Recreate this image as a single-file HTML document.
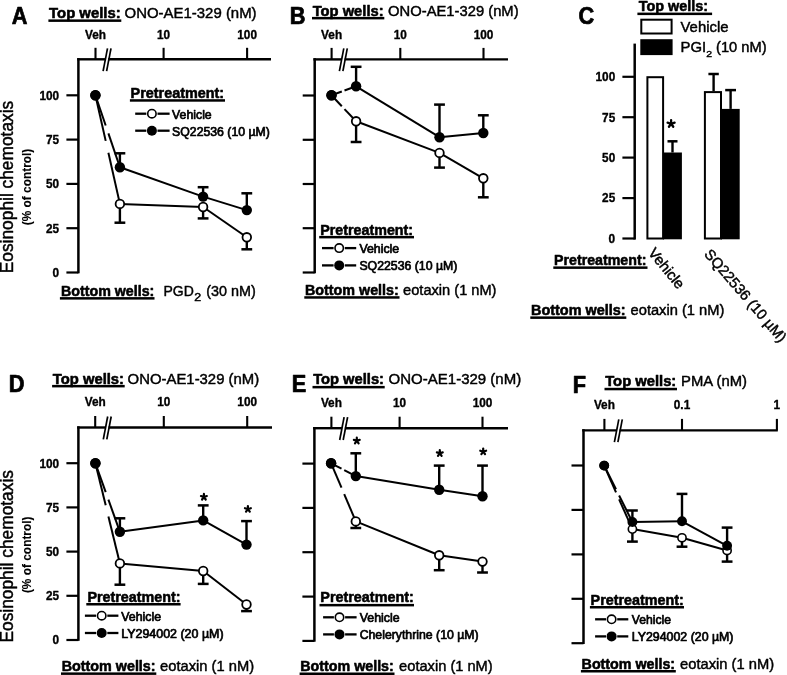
<!DOCTYPE html>
<html><head><meta charset="utf-8"><style>
html,body{margin:0;padding:0;background:#fff;overflow:hidden;}
svg{display:block;filter:grayscale(1);}
text{font-family:"Liberation Sans", sans-serif;fill:#000;stroke:#000;stroke-width:0.45px;stroke-linejoin:round;}
text[font-weight=bold]{stroke-width:0.55px;}
text.tk{stroke-width:0.35px;}
text.lg{stroke-width:0.7px;}
</style></head><body>
<svg width="787" height="675" viewBox="0 0 787 675" stroke="#000" fill="none">
<rect x="0" y="0" width="787" height="675" fill="#fff" stroke="none"/>
<text fill="#000" transform="translate(11.83,24.25) scale(0.93,1)" x="0" y="0" font-size="23.4" font-weight="bold" style="stroke-width:0.75px">A</text>
<text fill="#000" x="49.1" y="18.1" font-size="14.40" font-weight="bold" textLength="71.5" lengthAdjust="spacingAndGlyphs">Top wells:</text>
<rect x="48.4" y="19.4" width="72.9" height="2.5" fill="#000" stroke="none"/>
<text fill="#000" x="124.6" y="18.1" font-size="15.04" textLength="132.0" lengthAdjust="spacingAndGlyphs">ONO-AE1-329 (nM)</text>
<line x1="78.4" y1="58.1" x2="78.4" y2="273.3" stroke-width="2.5"/>
<line x1="66.4" y1="95.3" x2="78.4" y2="95.3" stroke-width="2.2"/>
<text fill="#000" x="59.1" y="99.6" font-size="12.39" font-weight="bold" text-anchor="end" textLength="19.7" lengthAdjust="spacingAndGlyphs" class="tk">100</text>
<line x1="66.4" y1="139.6" x2="78.4" y2="139.6" stroke-width="2.2"/>
<text fill="#000" x="59.1" y="143.9" font-size="12.39" font-weight="bold" text-anchor="end" textLength="13.1" lengthAdjust="spacingAndGlyphs" class="tk">75</text>
<line x1="66.4" y1="183.9" x2="78.4" y2="183.9" stroke-width="2.2"/>
<text fill="#000" x="59.1" y="188.2" font-size="12.39" font-weight="bold" text-anchor="end" textLength="13.1" lengthAdjust="spacingAndGlyphs" class="tk">50</text>
<line x1="66.4" y1="228.2" x2="78.4" y2="228.2" stroke-width="2.2"/>
<text fill="#000" x="59.1" y="232.5" font-size="12.39" font-weight="bold" text-anchor="end" textLength="13.1" lengthAdjust="spacingAndGlyphs" class="tk">25</text>
<line x1="66.4" y1="272.5" x2="78.4" y2="272.5" stroke-width="2.2"/>
<text fill="#000" x="59.1" y="276.8" font-size="12.39" font-weight="bold" text-anchor="end" textLength="6.6" lengthAdjust="spacingAndGlyphs" class="tk">0</text>
<line x1="77.2" y1="59.3" x2="105.5" y2="59.3" stroke-width="2.4"/>
<line x1="108.3" y1="59.3" x2="271.0" y2="59.3" stroke-width="2.4"/>
<line x1="103.1" y1="71.1" x2="107.5" y2="48.3" stroke-width="1.7"/>
<line x1="106.6" y1="71.1" x2="111.0" y2="48.3" stroke-width="1.7"/>
<line x1="95.5" y1="59.3" x2="95.5" y2="47.8" stroke-width="2.1"/>
<text fill="#000" x="95.5" y="39.2" font-size="12.39" font-weight="bold" text-anchor="middle" textLength="21.0" lengthAdjust="spacingAndGlyphs" class="tk">Veh</text>
<line x1="163.6" y1="59.3" x2="163.6" y2="47.8" stroke-width="2.1"/>
<text fill="#000" x="163.6" y="39.2" font-size="12.39" font-weight="bold" text-anchor="middle" textLength="13.1" lengthAdjust="spacingAndGlyphs" class="tk">10</text>
<line x1="247.1" y1="59.3" x2="247.1" y2="47.8" stroke-width="2.1"/>
<text fill="#000" x="247.1" y="39.2" font-size="12.39" font-weight="bold" text-anchor="middle" textLength="19.7" lengthAdjust="spacingAndGlyphs" class="tk">100</text>
<line x1="95.4" y1="95.2" x2="105.7" y2="140.9" stroke-width="2"/>
<line x1="108.4" y1="152.8" x2="119.9" y2="203.9" stroke-width="2"/>
<line x1="119.9" y1="203.9" x2="203.1" y2="207.0" stroke-width="2"/>
<line x1="203.1" y1="207.0" x2="246.8" y2="237.3" stroke-width="2"/>
<line x1="119.9" y1="203.9" x2="119.9" y2="222.7" stroke-width="2.4"/>
<line x1="114.5" y1="222.7" x2="125.3" y2="222.7" stroke-width="2.5"/>
<line x1="203.1" y1="207.0" x2="203.1" y2="218.4" stroke-width="2.4"/>
<line x1="197.7" y1="218.4" x2="208.5" y2="218.4" stroke-width="2.5"/>
<line x1="246.8" y1="237.3" x2="246.8" y2="249.3" stroke-width="2.4"/>
<line x1="241.4" y1="249.3" x2="252.2" y2="249.3" stroke-width="2.5"/>
<circle cx="95.4" cy="95.2" r="4.30" fill="#fff" stroke-width="1.8"/>
<circle cx="119.9" cy="203.9" r="4.30" fill="#fff" stroke-width="1.8"/>
<circle cx="203.1" cy="207.0" r="4.30" fill="#fff" stroke-width="1.8"/>
<circle cx="246.8" cy="237.3" r="4.30" fill="#fff" stroke-width="1.8"/>
<line x1="95.4" y1="95.2" x2="105.7" y2="125.5" stroke-width="2"/>
<line x1="108.4" y1="133.4" x2="119.9" y2="167.3" stroke-width="2"/>
<line x1="119.9" y1="167.3" x2="203.1" y2="196.6" stroke-width="2"/>
<line x1="203.1" y1="196.6" x2="246.8" y2="210.1" stroke-width="2"/>
<line x1="119.9" y1="167.3" x2="119.9" y2="153.3" stroke-width="2.4"/>
<line x1="114.5" y1="153.3" x2="125.3" y2="153.3" stroke-width="2.5"/>
<line x1="203.1" y1="196.6" x2="203.1" y2="187.2" stroke-width="2.4"/>
<line x1="197.7" y1="187.2" x2="208.5" y2="187.2" stroke-width="2.5"/>
<line x1="246.8" y1="210.1" x2="246.8" y2="193.3" stroke-width="2.4"/>
<line x1="241.4" y1="193.3" x2="252.2" y2="193.3" stroke-width="2.5"/>
<circle cx="95.4" cy="95.2" r="5.20" fill="#000" stroke="none"/>
<circle cx="119.9" cy="167.3" r="5.20" fill="#000" stroke="none"/>
<circle cx="203.1" cy="196.6" r="5.20" fill="#000" stroke="none"/>
<circle cx="246.8" cy="210.1" r="5.20" fill="#000" stroke="none"/>
<text fill="#000" x="130.6" y="98.2" font-size="14.40" font-weight="bold" textLength="93.5" lengthAdjust="spacingAndGlyphs">Pretreatment:</text>
<rect x="129.9" y="99.2" width="95.1" height="2.5" fill="#000" stroke="none"/>
<line x1="135.2" y1="113.7" x2="146.3" y2="113.7" stroke-width="2.3"/>
<line x1="157.5" y1="113.7" x2="169.6" y2="113.7" stroke-width="2.3"/>
<circle cx="151.9" cy="113.7" r="4.20" fill="#fff" stroke-width="1.6"/>
<text fill="#000" x="172.1" y="118.7" font-size="12.30" textLength="39.6" lengthAdjust="spacingAndGlyphs" class="lg">Vehicle</text>
<line x1="135.2" y1="130.7" x2="146.3" y2="130.7" stroke-width="2.3"/>
<line x1="157.5" y1="130.7" x2="169.6" y2="130.7" stroke-width="2.3"/>
<circle cx="151.9" cy="130.7" r="5.00" fill="#000" stroke="none"/>
<text fill="#000" x="172.1" y="135.7" font-size="12.30" textLength="97.8" lengthAdjust="spacingAndGlyphs" class="lg">SQ22536 (10 µM)</text>
<text fill="#000" x="61.0" y="295.7" font-size="14.40" font-weight="bold" textLength="93.3" lengthAdjust="spacingAndGlyphs">Bottom wells:</text>
<rect x="59.9" y="297.1" width="94.6" height="2.5" fill="#000" stroke="none"/>
<text fill="#000" x="163.5" y="296.3" font-size="15.04" textLength="30.3" lengthAdjust="spacingAndGlyphs">PGD</text>
<text fill="#000" x="194.3" y="301.4" font-size="10.00" textLength="6.9" lengthAdjust="spacingAndGlyphs">2</text>
<text fill="#000" x="206.2" y="296.3" font-size="15.04" textLength="49.5" lengthAdjust="spacingAndGlyphs">(30 nM)</text>
<text fill="#000" transform="translate(13.4,187.0) rotate(-90)" font-size="17.6" text-anchor="middle" textLength="172.5" lengthAdjust="spacingAndGlyphs">Eosinophil chemotaxis</text>
<text fill="#000" transform="translate(31.0,187) rotate(-90)" font-size="12.6" font-weight="bold" text-anchor="middle" textLength="76.6" lengthAdjust="spacingAndGlyphs" style="stroke-width:0.1px">(% of control)</text>
<text fill="#000" transform="translate(289.77,24.25) scale(0.93,1)" x="0" y="0" font-size="23.4" font-weight="bold" style="stroke-width:0.75px">B</text>
<text fill="#000" x="312.7" y="15.5" font-size="14.40" font-weight="bold" textLength="70.9" lengthAdjust="spacingAndGlyphs">Top wells:</text>
<rect x="312.0" y="16.9" width="72.3" height="2.5" fill="#000" stroke="none"/>
<text fill="#000" x="388.1" y="15.5" font-size="15.04" textLength="130.5" lengthAdjust="spacingAndGlyphs">ONO-AE1-329 (nM)</text>
<line x1="314.7" y1="58.2" x2="314.7" y2="273.3" stroke-width="2.5"/>
<line x1="302.7" y1="95.5" x2="314.7" y2="95.5" stroke-width="2.2"/>
<line x1="302.7" y1="139.8" x2="314.7" y2="139.8" stroke-width="2.2"/>
<line x1="302.7" y1="184.0" x2="314.7" y2="184.0" stroke-width="2.2"/>
<line x1="302.7" y1="228.2" x2="314.7" y2="228.2" stroke-width="2.2"/>
<line x1="302.7" y1="272.5" x2="314.7" y2="272.5" stroke-width="2.2"/>
<line x1="313.4" y1="59.4" x2="341.8" y2="59.4" stroke-width="2.4"/>
<line x1="344.6" y1="59.4" x2="508.0" y2="59.4" stroke-width="2.4"/>
<line x1="339.4" y1="71.2" x2="343.8" y2="48.4" stroke-width="1.7"/>
<line x1="342.9" y1="71.2" x2="347.3" y2="48.4" stroke-width="1.7"/>
<line x1="331.6" y1="59.4" x2="331.6" y2="47.9" stroke-width="2.1"/>
<text fill="#000" x="331.6" y="38.6" font-size="12.39" font-weight="bold" text-anchor="middle" textLength="21.0" lengthAdjust="spacingAndGlyphs" class="tk">Veh</text>
<line x1="400.3" y1="59.4" x2="400.3" y2="47.9" stroke-width="2.1"/>
<text fill="#000" x="400.3" y="38.6" font-size="12.39" font-weight="bold" text-anchor="middle" textLength="13.1" lengthAdjust="spacingAndGlyphs" class="tk">10</text>
<line x1="483.5" y1="59.4" x2="483.5" y2="47.9" stroke-width="2.1"/>
<text fill="#000" x="483.5" y="38.6" font-size="12.39" font-weight="bold" text-anchor="middle" textLength="19.7" lengthAdjust="spacingAndGlyphs" class="tk">100</text>
<line x1="331.5" y1="95.3" x2="341.8" y2="106.2" stroke-width="2"/>
<line x1="344.5" y1="109.1" x2="356.1" y2="121.3" stroke-width="2"/>
<line x1="356.1" y1="121.3" x2="439.5" y2="152.9" stroke-width="2"/>
<line x1="439.5" y1="152.9" x2="483.3" y2="178.3" stroke-width="2"/>
<line x1="356.1" y1="121.3" x2="356.1" y2="142.0" stroke-width="2.4"/>
<line x1="350.7" y1="142.0" x2="361.5" y2="142.0" stroke-width="2.5"/>
<line x1="439.5" y1="152.9" x2="439.5" y2="167.6" stroke-width="2.4"/>
<line x1="434.1" y1="167.6" x2="444.9" y2="167.6" stroke-width="2.5"/>
<line x1="483.3" y1="178.3" x2="483.3" y2="197.3" stroke-width="2.4"/>
<line x1="477.9" y1="197.3" x2="488.7" y2="197.3" stroke-width="2.5"/>
<circle cx="331.5" cy="95.3" r="4.30" fill="#fff" stroke-width="1.8"/>
<circle cx="356.1" cy="121.3" r="4.30" fill="#fff" stroke-width="1.8"/>
<circle cx="439.5" cy="152.9" r="4.30" fill="#fff" stroke-width="1.8"/>
<circle cx="483.3" cy="178.3" r="4.30" fill="#fff" stroke-width="1.8"/>
<line x1="331.5" y1="95.3" x2="341.8" y2="91.5" stroke-width="2"/>
<line x1="344.5" y1="90.5" x2="356.1" y2="86.3" stroke-width="2"/>
<line x1="356.1" y1="86.3" x2="439.5" y2="137.2" stroke-width="2"/>
<line x1="439.5" y1="137.2" x2="483.3" y2="133.0" stroke-width="2"/>
<line x1="356.1" y1="86.3" x2="356.1" y2="66.8" stroke-width="2.4"/>
<line x1="350.7" y1="66.8" x2="361.5" y2="66.8" stroke-width="2.5"/>
<line x1="439.5" y1="137.2" x2="439.5" y2="104.6" stroke-width="2.4"/>
<line x1="434.1" y1="104.6" x2="444.9" y2="104.6" stroke-width="2.5"/>
<line x1="483.3" y1="133.0" x2="483.3" y2="115.3" stroke-width="2.4"/>
<line x1="477.9" y1="115.3" x2="488.7" y2="115.3" stroke-width="2.5"/>
<circle cx="331.5" cy="95.3" r="5.20" fill="#000" stroke="none"/>
<circle cx="356.1" cy="86.3" r="5.20" fill="#000" stroke="none"/>
<circle cx="439.5" cy="137.2" r="5.20" fill="#000" stroke="none"/>
<circle cx="483.3" cy="133.0" r="5.20" fill="#000" stroke="none"/>
<text fill="#000" x="320.3" y="234.6" font-size="14.40" font-weight="bold" textLength="92.8" lengthAdjust="spacingAndGlyphs">Pretreatment:</text>
<rect x="319.2" y="235.9" width="94.8" height="2.5" fill="#000" stroke="none"/>
<line x1="322.0" y1="248.1" x2="333.6" y2="248.1" stroke-width="2.3"/>
<line x1="344.8" y1="248.1" x2="356.2" y2="248.1" stroke-width="2.3"/>
<circle cx="339.2" cy="248.1" r="4.20" fill="#fff" stroke-width="1.6"/>
<text fill="#000" x="359.4" y="253.1" font-size="12.30" textLength="39.8" lengthAdjust="spacingAndGlyphs" class="lg">Vehicle</text>
<line x1="322.0" y1="265.4" x2="333.6" y2="265.4" stroke-width="2.3"/>
<line x1="344.8" y1="265.4" x2="356.2" y2="265.4" stroke-width="2.3"/>
<circle cx="339.2" cy="265.4" r="5.00" fill="#000" stroke="none"/>
<text fill="#000" x="359.4" y="270.4" font-size="12.30" textLength="98.0" lengthAdjust="spacingAndGlyphs" class="lg">SQ22536 (10 µM)</text>
<text fill="#000" x="305.0" y="294.7" font-size="14.40" font-weight="bold" textLength="93.8" lengthAdjust="spacingAndGlyphs">Bottom wells:</text>
<rect x="304.3" y="296.2" width="95.2" height="2.5" fill="#000" stroke="none"/>
<text fill="#000" x="403.1" y="294.7" font-size="15.04" textLength="93.4" lengthAdjust="spacingAndGlyphs">eotaxin (1 nM)</text>
<text fill="#000" transform="translate(578.58,24.24) scale(0.93,1)" x="0" y="0" font-size="23.4" font-weight="bold" style="stroke-width:0.75px">C</text>
<text fill="#000" x="638.8" y="11.4" font-size="14.40" font-weight="bold" textLength="69.3" lengthAdjust="spacingAndGlyphs">Top wells:</text>
<rect x="637.4" y="12.6" width="74.7" height="2.5" fill="#000" stroke="none"/>
<rect x="641.3" y="19.7" width="30.3" height="13.8" fill="#fff" stroke-width="2"/>
<rect x="640.3" y="39.2" width="32.3" height="15.9" fill="#000" stroke="none"/>
<text fill="#000" x="680.5" y="31.6" font-size="14.60" textLength="48.0" lengthAdjust="spacingAndGlyphs">Vehicle</text>
<text fill="#000" x="680.5" y="52.2" font-size="14.60" textLength="25.6" lengthAdjust="spacingAndGlyphs">PGI</text>
<text fill="#000" x="706.2" y="56.7" font-size="9.60" textLength="5.8" lengthAdjust="spacingAndGlyphs">2</text>
<text fill="#000" x="716.0" y="52.2" font-size="14.60" textLength="50.6" lengthAdjust="spacingAndGlyphs">(10 nM)</text>
<line x1="634.7" y1="43.6" x2="634.7" y2="239.6" stroke-width="2.5"/>
<line x1="622.4" y1="76.8" x2="634.7" y2="76.8" stroke-width="2.2"/>
<text fill="#000" x="615.2" y="81.1" font-size="12.39" font-weight="bold" text-anchor="end" textLength="19.7" lengthAdjust="spacingAndGlyphs" class="tk">100</text>
<line x1="622.4" y1="117.2" x2="634.7" y2="117.2" stroke-width="2.2"/>
<text fill="#000" x="615.2" y="121.5" font-size="12.39" font-weight="bold" text-anchor="end" textLength="13.1" lengthAdjust="spacingAndGlyphs" class="tk">75</text>
<line x1="622.4" y1="157.6" x2="634.7" y2="157.6" stroke-width="2.2"/>
<text fill="#000" x="615.2" y="161.9" font-size="12.39" font-weight="bold" text-anchor="end" textLength="13.1" lengthAdjust="spacingAndGlyphs" class="tk">50</text>
<line x1="622.4" y1="198.1" x2="634.7" y2="198.1" stroke-width="2.2"/>
<text fill="#000" x="615.2" y="202.4" font-size="12.39" font-weight="bold" text-anchor="end" textLength="13.1" lengthAdjust="spacingAndGlyphs" class="tk">25</text>
<line x1="622.4" y1="238.5" x2="634.7" y2="238.5" stroke-width="2.2"/>
<text fill="#000" x="615.2" y="242.8" font-size="12.39" font-weight="bold" text-anchor="end" textLength="6.6" lengthAdjust="spacingAndGlyphs" class="tk">0</text>
<rect x="647.4" y="77.2" width="15.7" height="161.3" fill="#fff" stroke-width="2"/>
<rect x="662.9" y="152.5" width="19.0" height="86.8" fill="#000" stroke="none"/>
<line x1="672.5" y1="152.5" x2="672.5" y2="141.3" stroke-width="2.4"/>
<line x1="667.5" y1="141.3" x2="677.5" y2="141.3" stroke-width="2.5"/>
<rect x="704.9" y="92.1" width="16.1" height="146.4" fill="#fff" stroke-width="2"/>
<rect x="720.7" y="108.9" width="19.0" height="130.4" fill="#000" stroke="none"/>
<line x1="713.6" y1="91.1" x2="713.6" y2="74.0" stroke-width="2.4"/>
<line x1="708.4" y1="74.0" x2="718.8" y2="74.0" stroke-width="2.5"/>
<line x1="730.6" y1="108.9" x2="730.6" y2="90.1" stroke-width="2.4"/>
<line x1="725.2" y1="90.1" x2="736.0" y2="90.1" stroke-width="2.5"/>
<path d="M671.10,123.80L671.10,120.10M671.10,123.80L674.62,122.66M671.10,123.80L673.27,126.79M671.10,123.80L668.93,126.79M671.10,123.80L667.58,122.66" stroke-width="2.3" stroke-linecap="round"/>
<text fill="#000" transform="translate(647.6,252.9) rotate(51)" font-size="14.8">Vehicle</text>
<text fill="#000" transform="translate(703.6,254.5) rotate(49.3)" font-size="14.7">SQ22536 (10 µM)</text>
<text fill="#000" x="554.0" y="265.1" font-size="14.40" font-weight="bold" textLength="92.4" lengthAdjust="spacingAndGlyphs">Pretreatment:</text>
<rect x="553.3" y="266.4" width="94.2" height="2.5" fill="#000" stroke="none"/>
<text fill="#000" x="531.0" y="314.7" font-size="14.40" font-weight="bold" textLength="94.6" lengthAdjust="spacingAndGlyphs">Bottom wells:</text>
<rect x="530.3" y="316.4" width="96.0" height="2.5" fill="#000" stroke="none"/>
<text fill="#000" x="630.6" y="314.7" font-size="15.04" textLength="93.7" lengthAdjust="spacingAndGlyphs">eotaxin (1 nM)</text>
<text fill="#000" transform="translate(8.77,392.35) scale(0.93,1)" x="0" y="0" font-size="23.4" font-weight="bold" style="stroke-width:0.75px">D</text>
<text fill="#000" x="52.8" y="383.5" font-size="14.40" font-weight="bold" textLength="71.2" lengthAdjust="spacingAndGlyphs">Top wells:</text>
<rect x="52.1" y="384.9" width="72.6" height="2.5" fill="#000" stroke="none"/>
<text fill="#000" x="127.6" y="383.5" font-size="15.04" textLength="131.6" lengthAdjust="spacingAndGlyphs">ONO-AE1-329 (nM)</text>
<line x1="78.4" y1="426.3" x2="78.4" y2="640.8" stroke-width="2.5"/>
<line x1="66.4" y1="463.2" x2="78.4" y2="463.2" stroke-width="2.2"/>
<text fill="#000" x="59.1" y="467.5" font-size="12.39" font-weight="bold" text-anchor="end" textLength="19.7" lengthAdjust="spacingAndGlyphs" class="tk">100</text>
<line x1="66.4" y1="507.4" x2="78.4" y2="507.4" stroke-width="2.2"/>
<text fill="#000" x="59.1" y="511.7" font-size="12.39" font-weight="bold" text-anchor="end" textLength="13.1" lengthAdjust="spacingAndGlyphs" class="tk">75</text>
<line x1="66.4" y1="551.6" x2="78.4" y2="551.6" stroke-width="2.2"/>
<text fill="#000" x="59.1" y="555.9" font-size="12.39" font-weight="bold" text-anchor="end" textLength="13.1" lengthAdjust="spacingAndGlyphs" class="tk">50</text>
<line x1="66.4" y1="595.8" x2="78.4" y2="595.8" stroke-width="2.2"/>
<text fill="#000" x="59.1" y="600.1" font-size="12.39" font-weight="bold" text-anchor="end" textLength="13.1" lengthAdjust="spacingAndGlyphs" class="tk">25</text>
<line x1="66.4" y1="640.0" x2="78.4" y2="640.0" stroke-width="2.2"/>
<text fill="#000" x="59.1" y="644.3" font-size="12.39" font-weight="bold" text-anchor="end" textLength="6.6" lengthAdjust="spacingAndGlyphs" class="tk">0</text>
<line x1="77.2" y1="427.5" x2="105.7" y2="427.5" stroke-width="2.4"/>
<line x1="108.5" y1="427.5" x2="272.0" y2="427.5" stroke-width="2.4"/>
<line x1="103.3" y1="439.3" x2="107.7" y2="416.5" stroke-width="1.7"/>
<line x1="106.8" y1="439.3" x2="111.2" y2="416.5" stroke-width="1.7"/>
<line x1="95.2" y1="427.5" x2="95.2" y2="416.0" stroke-width="2.1"/>
<text fill="#000" x="95.2" y="405.8" font-size="12.39" font-weight="bold" text-anchor="middle" textLength="21.0" lengthAdjust="spacingAndGlyphs" class="tk">Veh</text>
<line x1="163.8" y1="427.5" x2="163.8" y2="416.0" stroke-width="2.1"/>
<text fill="#000" x="163.8" y="405.8" font-size="12.39" font-weight="bold" text-anchor="middle" textLength="13.1" lengthAdjust="spacingAndGlyphs" class="tk">10</text>
<line x1="247.2" y1="427.5" x2="247.2" y2="416.0" stroke-width="2.1"/>
<text fill="#000" x="247.2" y="405.8" font-size="12.39" font-weight="bold" text-anchor="middle" textLength="19.7" lengthAdjust="spacingAndGlyphs" class="tk">100</text>
<line x1="95.4" y1="463.3" x2="105.7" y2="505.3" stroke-width="2"/>
<line x1="108.4" y1="516.4" x2="119.9" y2="563.4" stroke-width="2"/>
<line x1="119.9" y1="563.4" x2="203.2" y2="571.0" stroke-width="2"/>
<line x1="203.2" y1="571.0" x2="246.5" y2="604.5" stroke-width="2"/>
<line x1="119.9" y1="563.4" x2="119.9" y2="584.7" stroke-width="2.4"/>
<line x1="114.5" y1="584.7" x2="125.3" y2="584.7" stroke-width="2.5"/>
<line x1="203.2" y1="571.0" x2="203.2" y2="583.9" stroke-width="2.4"/>
<line x1="197.8" y1="583.9" x2="208.6" y2="583.9" stroke-width="2.5"/>
<line x1="246.5" y1="604.5" x2="246.5" y2="611.1" stroke-width="2.4"/>
<line x1="241.1" y1="611.1" x2="251.9" y2="611.1" stroke-width="2.5"/>
<circle cx="95.4" cy="463.3" r="4.30" fill="#fff" stroke-width="1.8"/>
<circle cx="119.9" cy="563.4" r="4.30" fill="#fff" stroke-width="1.8"/>
<circle cx="203.2" cy="571.0" r="4.30" fill="#fff" stroke-width="1.8"/>
<circle cx="246.5" cy="604.5" r="4.30" fill="#fff" stroke-width="1.8"/>
<line x1="95.4" y1="463.3" x2="105.7" y2="492.1" stroke-width="2"/>
<line x1="108.4" y1="499.6" x2="119.9" y2="531.8" stroke-width="2"/>
<line x1="119.9" y1="531.8" x2="203.2" y2="520.4" stroke-width="2"/>
<line x1="203.2" y1="520.4" x2="246.5" y2="544.6" stroke-width="2"/>
<line x1="119.9" y1="531.8" x2="119.9" y2="518.3" stroke-width="2.4"/>
<line x1="114.5" y1="518.3" x2="125.3" y2="518.3" stroke-width="2.5"/>
<line x1="203.2" y1="520.4" x2="203.2" y2="505.4" stroke-width="2.4"/>
<line x1="197.8" y1="505.4" x2="208.6" y2="505.4" stroke-width="2.5"/>
<line x1="246.5" y1="544.6" x2="246.5" y2="521.1" stroke-width="2.4"/>
<line x1="241.1" y1="521.1" x2="251.9" y2="521.1" stroke-width="2.5"/>
<circle cx="95.4" cy="463.3" r="5.20" fill="#000" stroke="none"/>
<circle cx="119.9" cy="531.8" r="5.20" fill="#000" stroke="none"/>
<circle cx="203.2" cy="520.4" r="5.20" fill="#000" stroke="none"/>
<circle cx="246.5" cy="544.6" r="5.20" fill="#000" stroke="none"/>
<path d="M203.90,497.00L203.90,493.90M203.90,497.00L206.85,496.04M203.90,497.00L205.72,499.51M203.90,497.00L202.08,499.51M203.90,497.00L200.95,496.04" stroke-width="2.2" stroke-linecap="round"/>
<path d="M247.90,509.20L247.90,506.10M247.90,509.20L250.85,508.24M247.90,509.20L249.72,511.71M247.90,509.20L246.08,511.71M247.90,509.20L244.95,508.24" stroke-width="2.2" stroke-linecap="round"/>
<text fill="#000" x="87.4" y="602.0" font-size="14.40" font-weight="bold" textLength="93.2" lengthAdjust="spacingAndGlyphs">Pretreatment:</text>
<rect x="86.3" y="603.0" width="94.3" height="2.5" fill="#000" stroke="none"/>
<line x1="84.9" y1="615.7" x2="96.1" y2="615.7" stroke-width="2.3"/>
<line x1="107.3" y1="615.7" x2="118.4" y2="615.7" stroke-width="2.3"/>
<circle cx="101.7" cy="615.7" r="4.20" fill="#fff" stroke-width="1.6"/>
<text fill="#000" x="121.2" y="620.7" font-size="12.30" textLength="39.9" lengthAdjust="spacingAndGlyphs" class="lg">Vehicle</text>
<line x1="84.9" y1="633.0" x2="96.1" y2="633.0" stroke-width="2.3"/>
<line x1="107.3" y1="633.0" x2="118.4" y2="633.0" stroke-width="2.3"/>
<circle cx="101.7" cy="633.0" r="5.00" fill="#000" stroke="none"/>
<text fill="#000" x="121.2" y="638.0" font-size="12.30" textLength="102.4" lengthAdjust="spacingAndGlyphs" class="lg">LY294002 (20 µM)</text>
<text fill="#000" x="61.7" y="670.6" font-size="14.40" font-weight="bold" textLength="93.9" lengthAdjust="spacingAndGlyphs">Bottom wells:</text>
<rect x="61.0" y="672.4" width="95.3" height="2.5" fill="#000" stroke="none"/>
<text fill="#000" x="160.1" y="670.6" font-size="15.04" textLength="94.0" lengthAdjust="spacingAndGlyphs">eotaxin (1 nM)</text>
<text fill="#000" transform="translate(13.4,556.3) rotate(-90)" font-size="17.6" text-anchor="middle" textLength="172.5" lengthAdjust="spacingAndGlyphs">Eosinophil chemotaxis</text>
<text fill="#000" transform="translate(31.0,554.8) rotate(-90)" font-size="12.6" font-weight="bold" text-anchor="middle" textLength="76.6" lengthAdjust="spacingAndGlyphs" style="stroke-width:0.1px">(% of control)</text>
<text fill="#000" transform="translate(291.87,392.45) scale(0.93,1)" x="0" y="0" font-size="23.4" font-weight="bold" style="stroke-width:0.75px">E</text>
<text fill="#000" x="313.2" y="384.3" font-size="14.40" font-weight="bold" textLength="70.8" lengthAdjust="spacingAndGlyphs">Top wells:</text>
<rect x="312.5" y="385.9" width="72.2" height="2.5" fill="#000" stroke="none"/>
<text fill="#000" x="388.6" y="384.3" font-size="15.04" textLength="132.6" lengthAdjust="spacingAndGlyphs">ONO-AE1-329 (nM)</text>
<line x1="314.4" y1="427.0" x2="314.4" y2="641.7" stroke-width="2.5"/>
<line x1="302.4" y1="463.6" x2="314.4" y2="463.6" stroke-width="2.2"/>
<line x1="302.4" y1="507.9" x2="314.4" y2="507.9" stroke-width="2.2"/>
<line x1="302.4" y1="552.2" x2="314.4" y2="552.2" stroke-width="2.2"/>
<line x1="302.4" y1="596.6" x2="314.4" y2="596.6" stroke-width="2.2"/>
<line x1="302.4" y1="640.9" x2="314.4" y2="640.9" stroke-width="2.2"/>
<line x1="313.1" y1="428.2" x2="342.1" y2="428.2" stroke-width="2.4"/>
<line x1="344.9" y1="428.2" x2="508.0" y2="428.2" stroke-width="2.4"/>
<line x1="339.7" y1="440.0" x2="344.1" y2="417.2" stroke-width="1.7"/>
<line x1="343.2" y1="440.0" x2="347.6" y2="417.2" stroke-width="1.7"/>
<line x1="331.4" y1="428.2" x2="331.4" y2="416.7" stroke-width="2.1"/>
<text fill="#000" x="331.4" y="406.8" font-size="12.39" font-weight="bold" text-anchor="middle" textLength="21.0" lengthAdjust="spacingAndGlyphs" class="tk">Veh</text>
<line x1="399.6" y1="428.2" x2="399.6" y2="416.7" stroke-width="2.1"/>
<text fill="#000" x="399.6" y="406.8" font-size="12.39" font-weight="bold" text-anchor="middle" textLength="13.1" lengthAdjust="spacingAndGlyphs" class="tk">10</text>
<line x1="482.5" y1="428.2" x2="482.5" y2="416.7" stroke-width="2.1"/>
<text fill="#000" x="482.5" y="406.8" font-size="12.39" font-weight="bold" text-anchor="middle" textLength="19.7" lengthAdjust="spacingAndGlyphs" class="tk">100</text>
<line x1="331.1" y1="463.3" x2="341.5" y2="487.7" stroke-width="2"/>
<line x1="344.2" y1="494.1" x2="355.8" y2="521.4" stroke-width="2"/>
<line x1="355.8" y1="521.4" x2="439.2" y2="555.3" stroke-width="2"/>
<line x1="439.2" y1="555.3" x2="482.5" y2="561.6" stroke-width="2"/>
<line x1="355.8" y1="521.4" x2="355.8" y2="528.0" stroke-width="2.4"/>
<line x1="350.4" y1="528.0" x2="361.2" y2="528.0" stroke-width="2.5"/>
<line x1="439.2" y1="555.3" x2="439.2" y2="570.2" stroke-width="2.4"/>
<line x1="433.8" y1="570.2" x2="444.6" y2="570.2" stroke-width="2.5"/>
<line x1="482.5" y1="561.6" x2="482.5" y2="572.5" stroke-width="2.4"/>
<line x1="477.1" y1="572.5" x2="487.9" y2="572.5" stroke-width="2.5"/>
<circle cx="331.1" cy="463.3" r="4.30" fill="#fff" stroke-width="1.8"/>
<circle cx="355.8" cy="521.4" r="4.30" fill="#fff" stroke-width="1.8"/>
<circle cx="439.2" cy="555.3" r="4.30" fill="#fff" stroke-width="1.8"/>
<circle cx="482.5" cy="561.6" r="4.30" fill="#fff" stroke-width="1.8"/>
<line x1="331.1" y1="463.3" x2="341.5" y2="468.7" stroke-width="2"/>
<line x1="344.2" y1="470.1" x2="355.8" y2="476.1" stroke-width="2"/>
<line x1="355.8" y1="476.1" x2="439.2" y2="489.7" stroke-width="2"/>
<line x1="439.2" y1="489.7" x2="482.5" y2="496.3" stroke-width="2"/>
<line x1="355.8" y1="476.1" x2="355.8" y2="453.3" stroke-width="2.4"/>
<line x1="350.4" y1="453.3" x2="361.2" y2="453.3" stroke-width="2.5"/>
<line x1="439.2" y1="489.7" x2="439.2" y2="465.6" stroke-width="2.4"/>
<line x1="433.8" y1="465.6" x2="444.6" y2="465.6" stroke-width="2.5"/>
<line x1="482.5" y1="496.3" x2="482.5" y2="465.6" stroke-width="2.4"/>
<line x1="477.1" y1="465.6" x2="487.9" y2="465.6" stroke-width="2.5"/>
<circle cx="331.1" cy="463.3" r="5.20" fill="#000" stroke="none"/>
<circle cx="355.8" cy="476.1" r="5.20" fill="#000" stroke="none"/>
<circle cx="439.2" cy="489.7" r="5.20" fill="#000" stroke="none"/>
<circle cx="482.5" cy="496.3" r="5.20" fill="#000" stroke="none"/>
<path d="M356.80,440.80L356.80,437.70M356.80,440.80L359.75,439.84M356.80,440.80L358.62,443.31M356.80,440.80L354.98,443.31M356.80,440.80L353.85,439.84" stroke-width="2.2" stroke-linecap="round"/>
<path d="M439.80,453.30L439.80,450.20M439.80,453.30L442.75,452.34M439.80,453.30L441.62,455.81M439.80,453.30L437.98,455.81M439.80,453.30L436.85,452.34" stroke-width="2.2" stroke-linecap="round"/>
<path d="M483.20,451.70L483.20,448.60M483.20,451.70L486.15,450.74M483.20,451.70L485.02,454.21M483.20,451.70L481.38,454.21M483.20,451.70L480.25,450.74" stroke-width="2.2" stroke-linecap="round"/>
<text fill="#000" x="320.3" y="602.3" font-size="14.40" font-weight="bold" textLength="93.5" lengthAdjust="spacingAndGlyphs">Pretreatment:</text>
<rect x="319.5" y="603.9" width="94.5" height="2.5" fill="#000" stroke="none"/>
<line x1="323.1" y1="617.3" x2="333.9" y2="617.3" stroke-width="2.3"/>
<line x1="345.1" y1="617.3" x2="356.6" y2="617.3" stroke-width="2.3"/>
<circle cx="339.5" cy="617.3" r="4.20" fill="#fff" stroke-width="1.6"/>
<text fill="#000" x="359.7" y="622.3" font-size="12.30" textLength="39.9" lengthAdjust="spacingAndGlyphs" class="lg">Vehicle</text>
<line x1="323.1" y1="634.4" x2="333.9" y2="634.4" stroke-width="2.3"/>
<line x1="345.1" y1="634.4" x2="356.6" y2="634.4" stroke-width="2.3"/>
<circle cx="339.5" cy="634.4" r="5.00" fill="#000" stroke="none"/>
<text fill="#000" x="359.7" y="639.4" font-size="12.30" textLength="118.9" lengthAdjust="spacingAndGlyphs" class="lg">Chelerythrine (10 µM)</text>
<text fill="#000" x="300.3" y="671.1" font-size="14.40" font-weight="bold" textLength="93.5" lengthAdjust="spacingAndGlyphs">Bottom wells:</text>
<rect x="299.6" y="672.5" width="94.9" height="2.5" fill="#000" stroke="none"/>
<text fill="#000" x="399.1" y="671.1" font-size="15.04" textLength="93.6" lengthAdjust="spacingAndGlyphs">eotaxin (1 nM)</text>
<text fill="#000" transform="translate(572.87,392.55) scale(0.93,1)" x="0" y="0" font-size="23.4" font-weight="bold" style="stroke-width:0.75px">F</text>
<text fill="#000" x="605.2" y="386.3" font-size="14.40" font-weight="bold" textLength="71.1" lengthAdjust="spacingAndGlyphs">Top wells:</text>
<rect x="604.5" y="387.8" width="72.5" height="2.5" fill="#000" stroke="none"/>
<text fill="#000" x="681.1" y="386.3" font-size="15.04" textLength="65.9" lengthAdjust="spacingAndGlyphs">PMA (nM)</text>
<line x1="583.5" y1="429.2" x2="583.5" y2="644.0" stroke-width="2.5"/>
<line x1="571.5" y1="465.5" x2="583.5" y2="465.5" stroke-width="2.2"/>
<line x1="571.5" y1="509.9" x2="583.5" y2="509.9" stroke-width="2.2"/>
<line x1="571.5" y1="554.4" x2="583.5" y2="554.4" stroke-width="2.2"/>
<line x1="571.5" y1="598.8" x2="583.5" y2="598.8" stroke-width="2.2"/>
<line x1="571.5" y1="643.2" x2="583.5" y2="643.2" stroke-width="2.2"/>
<line x1="582.2" y1="430.4" x2="616.8" y2="430.4" stroke-width="2.4"/>
<line x1="619.6" y1="430.4" x2="777.8" y2="430.4" stroke-width="2.4"/>
<line x1="614.4" y1="442.2" x2="618.8" y2="419.4" stroke-width="1.7"/>
<line x1="617.9" y1="442.2" x2="622.3" y2="419.4" stroke-width="1.7"/>
<line x1="604.4" y1="430.4" x2="604.4" y2="418.9" stroke-width="2.1"/>
<text fill="#000" x="604.4" y="409.2" font-size="12.39" font-weight="bold" text-anchor="middle" textLength="21.0" lengthAdjust="spacingAndGlyphs" class="tk">Veh</text>
<line x1="682.0" y1="430.4" x2="682.0" y2="418.9" stroke-width="2.1"/>
<text fill="#000" x="682.0" y="409.2" font-size="12.39" font-weight="bold" text-anchor="middle" textLength="16.4" lengthAdjust="spacingAndGlyphs" class="tk">0.1</text>
<line x1="776.9" y1="430.4" x2="776.9" y2="418.9" stroke-width="2.1"/>
<text fill="#000" x="776.9" y="409.2" font-size="12.39" font-weight="bold" text-anchor="middle" textLength="6.6" lengthAdjust="spacingAndGlyphs" class="tk">1</text>
<line x1="604.2" y1="465.6" x2="616.0" y2="492.3" stroke-width="2"/>
<line x1="619.1" y1="499.3" x2="632.4" y2="529.1" stroke-width="2"/>
<line x1="632.4" y1="529.1" x2="682.0" y2="537.8" stroke-width="2"/>
<line x1="682.0" y1="537.8" x2="727.1" y2="550.5" stroke-width="2"/>
<line x1="632.4" y1="529.1" x2="632.4" y2="541.6" stroke-width="2.4"/>
<line x1="627.0" y1="541.6" x2="637.8" y2="541.6" stroke-width="2.5"/>
<line x1="682.0" y1="537.8" x2="682.0" y2="546.7" stroke-width="2.4"/>
<line x1="676.6" y1="546.7" x2="687.4" y2="546.7" stroke-width="2.5"/>
<line x1="727.1" y1="550.5" x2="727.1" y2="561.6" stroke-width="2.4"/>
<line x1="721.7" y1="561.6" x2="732.5" y2="561.6" stroke-width="2.5"/>
<circle cx="604.2" cy="465.6" r="4.10" fill="#fff" stroke-width="1.6"/>
<circle cx="632.4" cy="529.1" r="4.10" fill="#fff" stroke-width="1.6"/>
<circle cx="682.0" cy="537.8" r="4.10" fill="#fff" stroke-width="1.6"/>
<circle cx="727.1" cy="550.5" r="4.10" fill="#fff" stroke-width="1.6"/>
<line x1="604.2" y1="465.6" x2="616.0" y2="489.3" stroke-width="2"/>
<line x1="619.1" y1="495.5" x2="632.4" y2="522.0" stroke-width="2"/>
<line x1="632.4" y1="522.0" x2="682.0" y2="521.3" stroke-width="2"/>
<line x1="682.0" y1="521.3" x2="727.1" y2="545.8" stroke-width="2"/>
<line x1="632.4" y1="522.0" x2="632.4" y2="510.5" stroke-width="2.4"/>
<line x1="627.0" y1="510.5" x2="637.8" y2="510.5" stroke-width="2.5"/>
<line x1="682.0" y1="521.3" x2="682.0" y2="493.9" stroke-width="2.4"/>
<line x1="676.6" y1="493.9" x2="687.4" y2="493.9" stroke-width="2.5"/>
<line x1="727.1" y1="545.8" x2="727.1" y2="527.6" stroke-width="2.4"/>
<line x1="721.7" y1="527.6" x2="732.5" y2="527.6" stroke-width="2.5"/>
<circle cx="604.2" cy="465.6" r="4.95" fill="#000" stroke="none"/>
<circle cx="632.4" cy="522.0" r="4.95" fill="#000" stroke="none"/>
<circle cx="682.0" cy="521.3" r="4.95" fill="#000" stroke="none"/>
<circle cx="727.1" cy="545.8" r="4.95" fill="#000" stroke="none"/>
<text fill="#000" x="590.6" y="604.6" font-size="14.40" font-weight="bold" textLength="93.2" lengthAdjust="spacingAndGlyphs">Pretreatment:</text>
<rect x="589.9" y="606.0" width="94.1" height="2.5" fill="#000" stroke="none"/>
<line x1="595.1" y1="619.3" x2="606.0" y2="619.3" stroke-width="2.3"/>
<line x1="617.2" y1="619.3" x2="628.3" y2="619.3" stroke-width="2.3"/>
<circle cx="611.6" cy="619.3" r="4.20" fill="#fff" stroke-width="1.6"/>
<text fill="#000" x="631.8" y="624.3" font-size="12.30" textLength="39.2" lengthAdjust="spacingAndGlyphs" class="lg">Vehicle</text>
<line x1="595.1" y1="636.4" x2="606.0" y2="636.4" stroke-width="2.3"/>
<line x1="617.2" y1="636.4" x2="628.3" y2="636.4" stroke-width="2.3"/>
<circle cx="611.6" cy="636.4" r="5.00" fill="#000" stroke="none"/>
<text fill="#000" x="631.8" y="641.4" font-size="12.30" textLength="101.7" lengthAdjust="spacingAndGlyphs" class="lg">LY294002 (20 µM)</text>
<text fill="#000" x="581.6" y="668.5" font-size="14.40" font-weight="bold" textLength="93.5" lengthAdjust="spacingAndGlyphs">Bottom wells:</text>
<rect x="580.9" y="670.0" width="94.9" height="2.5" fill="#000" stroke="none"/>
<text fill="#000" x="680.1" y="668.5" font-size="15.04" textLength="94.0" lengthAdjust="spacingAndGlyphs">eotaxin (1 nM)</text>
</svg>
</body></html>
